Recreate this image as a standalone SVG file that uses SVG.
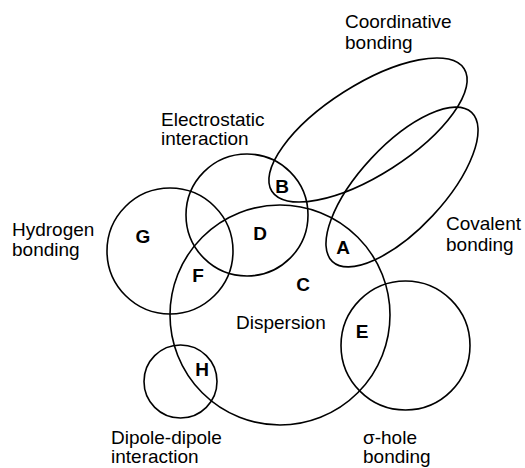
<svg xmlns="http://www.w3.org/2000/svg" width="525" height="468" viewBox="0 0 525 468">
<style>
.set{fill:none;stroke:#000;stroke-width:1.6}
.lbl{font-family:"Liberation Sans",Arial,Helvetica,sans-serif;font-size:19px;fill:#000}
.reg{font-family:"Liberation Sans",Arial,Helvetica,sans-serif;font-size:19px;font-weight:bold;fill:#000;text-anchor:middle}
</style>
<rect width="525" height="468" fill="#fff"/>
<g id="dispersion"><circle class="set" cx="280" cy="315" r="110"/><text class="lbl" x="236" y="329">Dispersion</text></g>
<g id="hydrogen"><circle class="set" cx="170" cy="251" r="63"/><text class="lbl" x="12" y="236">Hydrogen</text><text class="lbl" x="12" y="256">bonding</text></g>
<g id="electrostatic"><circle class="set" cx="247" cy="215" r="61"/><text class="lbl" x="161" y="126">Electrostatic</text><text class="lbl" x="161" y="144.5">interaction</text></g>
<g id="dipole"><circle class="set" cx="180.5" cy="381.5" r="36.5"/><text class="lbl" x="111" y="444">Dipole-dipole</text><text class="lbl" x="111" y="462.5">interaction</text></g>
<g id="sigmahole"><circle class="set" cx="405.5" cy="345.5" r="64.5"/><text class="lbl" x="363" y="444">σ-hole</text><text class="lbl" x="363" y="462.5">bonding</text></g>
<g id="coordinative"><ellipse class="set" cx="368" cy="130" rx="114" ry="45" transform="rotate(-32.5 368 130)"/><text class="lbl" x="345" y="28">Coordinative</text><text class="lbl" x="345" y="49">bonding</text></g>
<g id="covalent"><ellipse class="set" cx="402" cy="187" rx="102" ry="42" transform="rotate(-47 402 187)"/><text class="lbl" x="446" y="230">Covalent</text><text class="lbl" x="446" y="251">bonding</text></g>
<g id="regions">
<text class="reg" x="282" y="193">B</text>
<text class="reg" x="260" y="240">D</text>
<text class="reg" x="143" y="243">G</text>
<text class="reg" x="198" y="282">F</text>
<text class="reg" x="343" y="254">A</text>
<text class="reg" x="303" y="291">C</text>
<text class="reg" x="362" y="338">E</text>
<text class="reg" x="202" y="376">H</text>
</g>
<g id="connectors"/>
</svg>
